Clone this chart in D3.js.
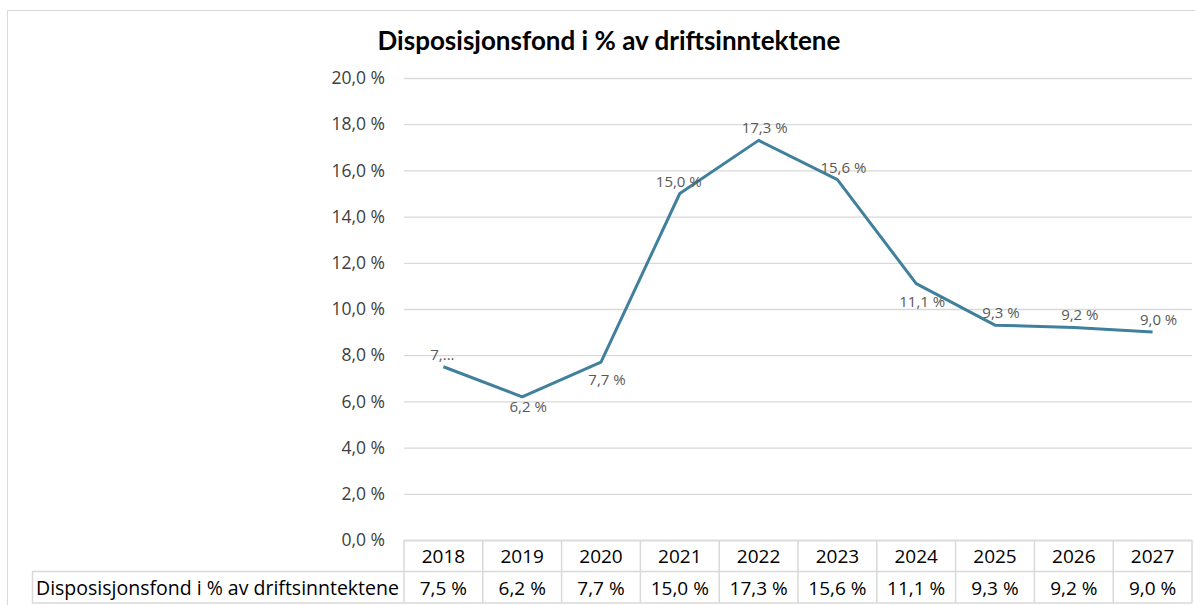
<!DOCTYPE html>
<html>
<head>
<meta charset="utf-8">
<script src="https://cdn.jsdelivr.net/npm/d3@7"></script>
<style>
  body { margin: 0; background: #fff; }
  svg { display: block; font-family: 'Open Sans', Lato, sans-serif; }
</style>
</head>
<body>
<div id="chart"></div>
<script>
// data
var years = ['2018', '2019', '2020', '2021', '2022', '2023', '2024', '2025', '2026', '2027'];
var values = [7.5, 6.2, 7.7, 15.0, 17.3, 15.6, 11.1, 9.3, 9.2, 9.0];
var pointLabels = ['7,...', '6,2 %', '7,7 %', '15,0 %', '17,3 %', '15,6 %', '11,1 %', '9,3 %', '9,2 %', '9,0 %'];
var labelSide = ['aboveleft', 'below', 'lowright', 'aboveleft', 'above', 'above', 'lowright', 'above', 'above', 'above'];
var yTicks = [0, 2, 4, 6, 8, 10, 12, 14, 16, 18, 20];
var seriesName = 'Disposisjonsfond i % av driftsinntektene';
var chartTitle = 'Disposisjonsfond i % av driftsinntektene';

var W = 1195, H = 605;
var plot = {left: 404, right: 1192, top: 78, bottom: 540};
var rowH = 31.5;
// label offsets from the point, per placement
var sideOffset = {
  above: [6, -7], aboveleft: [-1, -7], below: [6, 15], lowright: [6, 23]
};

var fmt = function(v) { return d3.format('.1f')(v).replace('.', ',') + ' %'; };

var svg = d3.select('#chart').append('svg')
    .attr('width', W)
    .attr('height', H);

// outer chart border (left + top visible)
svg.append('path')
    .attr('d', 'M7.5,' + H + 'V10.5H' + W)
    .attr('fill', 'none')
    .attr('stroke', '#d9d9d9');

var x = d3.scaleBand()
    .domain(years)
    .range([plot.left, plot.right]);

var y = d3.scaleLinear()
    .domain([0, 20])
    .range([plot.bottom, plot.top]);

// gridlines
var yGrid = d3.axisLeft(y).tickValues(yTicks).tickSize(-(plot.right - plot.left)).tickFormat('');
svg.append('g')
    .attr('class', 'grid')
    .attr('transform', 'translate(' + plot.left + ',0)')
    .call(yGrid)
    .call(g => g.select('.domain').remove())
    .call(g => g.selectAll('line').attr('stroke', '#d9d9d9').attr('stroke-width', 1.3));

// y axis labels
var yaxis = d3.axisLeft(y).tickValues(yTicks).tickSize(0).tickPadding(19)
    .tickFormat(fmt);
svg.append('g')
    .attr('transform', 'translate(' + plot.left + ',0)')
    .call(yaxis)
    .call(g => g.select('.domain').remove())
    .call(g => g.selectAll('text')
      .attr('fill', '#404040')
      .style('font-size', '17.5px')
      .style('font-family', "'Open Sans', sans-serif"));

// line
var line = d3.line()
    .x((d, i) => x(years[i]) + x.bandwidth() / 2)
    .y(d => y(d));

svg.append('path')
    .datum(values)
    .attr('fill', 'none')
    .attr('stroke', '#41809c')
    .attr('stroke-width', 3)
    .attr('stroke-linejoin', 'round')
    .attr('d', line);

// data labels
svg.append('g').selectAll('text')
    .data(values)
  .enter().append('text')
    .attr('x', (d, i) => x(years[i]) + x.bandwidth() / 2 + sideOffset[labelSide[i]][0])
    .attr('y', (d, i) => y(d) + sideOffset[labelSide[i]][1])
    .attr('text-anchor', 'middle')
    .attr('fill', '#595959')
    .style('font-size', '15px')
    .text((d, i) => pointLabels[i]);

// title
svg.append('text')
    .attr('x', 609)
    .attr('y', 50)
    .attr('text-anchor', 'middle')
    .attr('fill', '#000')
    .style('font-family', 'Lato, sans-serif')
    .style('font-size', '26px')
    .style('font-weight', 'bold')
    .text(chartTitle);

// data table
var tbl = svg.append('g');
var rowTop = plot.bottom, rowMid = plot.bottom + rowH, rowBot = plot.bottom + 2 * rowH;
var gridColor = '#d9d9d9';

tbl.append('line')
    .attr('x1', plot.left).attr('x2', plot.right)
    .attr('y1', rowTop + 0.5).attr('y2', rowTop + 0.5)
    .attr('stroke', gridColor).attr('stroke-width', 1.5);
tbl.append('line')
    .attr('x1', 32).attr('x2', plot.right)
    .attr('y1', rowMid).attr('y2', rowMid)
    .attr('stroke', gridColor).attr('stroke-width', 1.5);
tbl.append('line')
    .attr('x1', 32).attr('x2', plot.right)
    .attr('y1', rowBot).attr('y2', rowBot)
    .attr('stroke', gridColor).attr('stroke-width', 1.5);
tbl.append('line')
    .attr('x1', 32.5).attr('x2', 32.5)
    .attr('y1', rowMid).attr('y2', rowBot)
    .attr('stroke', gridColor).attr('stroke-width', 1.5);

tbl.selectAll('line.col')
    .data(years.concat(['end']))
  .enter().append('line')
    .attr('class', 'col')
    .attr('x1', (d, i) => i < years.length ? x(d) : plot.right)
    .attr('x2', (d, i) => i < years.length ? x(d) : plot.right)
    .attr('y1', rowTop).attr('y2', rowBot)
    .attr('stroke', gridColor).attr('stroke-width', 1.5);

tbl.selectAll('text.year')
    .data(years)
  .enter().append('text')
    .attr('class', 'year')
    .attr('x', d => x(d) + x.bandwidth() / 2)
    .attr('y', rowTop + 23)
    .attr('text-anchor', 'middle')
    .style('font-size', '19px')
    .text(d => d);

tbl.selectAll('text.val')
    .data(values)
  .enter().append('text')
    .attr('class', 'val')
    .attr('x', (d, i) => x(years[i]) + x.bandwidth() / 2)
    .attr('y', rowMid + 23)
    .attr('text-anchor', 'middle')
    .style('font-size', '19px')
    .text(d => fmt(d));

tbl.append('text')
    .attr('x', 36)
    .attr('y', rowMid + 23)
    .style('font-size', '19.5px')
    .text(seriesName);
</script>
</body>
</html>
